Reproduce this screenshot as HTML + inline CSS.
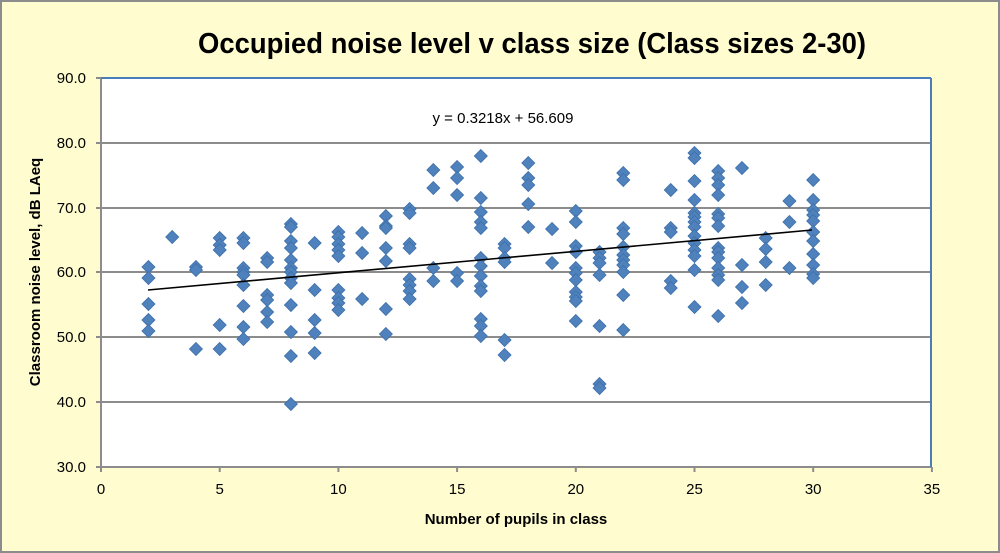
<!DOCTYPE html>
<html><head><meta charset="utf-8"><style>
html,body{margin:0;padding:0;background:#fff;}
svg{display:block;font-family:"Liberation Sans",Arial,sans-serif;}
</style></head><body>
<svg id="s" width="1000" height="553" viewBox="0 0 1000 553" xmlns="http://www.w3.org/2000/svg">
<rect x="1" y="1" width="998" height="551" fill="#fffdd0" stroke="#8c8c8c" stroke-width="2"/>
<text x="532" y="53" text-anchor="middle" font-size="29" font-weight="bold" fill="#000" textLength="668" lengthAdjust="spacingAndGlyphs">Occupied noise level v class size (Class sizes 2-30)</text>
<rect x="101" y="78" width="830" height="389" fill="#fff"/>
<g stroke="#8c8c8c" stroke-width="2">
<line x1="101" y1="143" x2="931" y2="143"/>
<line x1="101" y1="208" x2="931" y2="208"/>
<line x1="101" y1="272" x2="931" y2="272"/>
<line x1="101" y1="337" x2="931" y2="337"/>
<line x1="101" y1="402" x2="931" y2="402"/>
<line x1="101" y1="467" x2="931" y2="467"/>
<line x1="101" y1="78" x2="101" y2="467"/>
<line x1="96" y1="78" x2="101" y2="78"/><line x1="96" y1="143" x2="101" y2="143"/><line x1="96" y1="208" x2="101" y2="208"/><line x1="96" y1="272" x2="101" y2="272"/><line x1="96" y1="337" x2="101" y2="337"/><line x1="96" y1="402" x2="101" y2="402"/><line x1="96" y1="467" x2="101" y2="467"/>
</g>
<line x1="101" y1="78" x2="931" y2="78" stroke="#4a7ebb" stroke-width="2"/>
<line x1="931" y1="78" x2="931" y2="467" stroke="#4a7ebb" stroke-width="2"/>
<g stroke="#8c8c8c" stroke-width="2" id="xt"></g>
<g font-size="15" fill="#000" text-anchor="end">
<text x="86" y="83">90.0</text><text x="86" y="148">80.0</text><text x="86" y="213">70.0</text><text x="86" y="277">60.0</text><text x="86" y="342">50.0</text><text x="86" y="407">40.0</text><text x="86" y="472">30.0</text>
</g>
<g font-size="15" fill="#000" text-anchor="middle" id="xl"></g>
<text x="516" y="524" text-anchor="middle" font-size="15" font-weight="bold">Number of pupils in class</text>
<text transform="translate(40,272) rotate(-90)" text-anchor="middle" font-size="15" font-weight="bold">Classroom noise level, dB LAeq</text>
<g id="pts" fill="#4f81bd" stroke="#3d6fa8" stroke-width="0.8"></g>
<line x1="148" y1="290" x2="812" y2="230" stroke="#000" stroke-width="1.6"/>
<text x="503" y="123" text-anchor="middle" font-size="15">y = 0.3218x + 56.609</text>
</svg>
<script>
var ns="http://www.w3.org/2000/svg";
var xt=document.getElementById("xt"),xl=document.getElementById("xl");
for(var i=0;i<=35;i+=5){var px=101+i*23.74;
var l=document.createElementNS(ns,"line");l.setAttribute("x1",px);l.setAttribute("x2",px);l.setAttribute("y1",467);l.setAttribute("y2",472);xt.appendChild(l);
var t=document.createElementNS(ns,"text");t.setAttribute("x",px);t.setAttribute("y",494);t.textContent=i;xl.appendChild(t);}
var d={2:[267,278,304,320,331],3:[237],4:[267,270,349],5:[238,245,250,325,349],6:[238,243,268,272,275,285,306,327,339],
7:[258,262,295,300,312,322],8:[224,227,241,248,260,268,272,278,283,305,332,356,404],9:[243,290,320,333,353],
10:[232,237,244,250,256,290,298,303,310],11:[233,253,299],12:[216,226,228,248,261,309,334],13:[209,213,244,248,279,285,291,299],
14:[170,188,268,281],15:[167,178,195,273,281],16:[156,198,212,222,228,258,266,276,286,291,319,326,336],17:[244,248,258,262,340,355],
18:[163,178,185,204,227],19:[229,263],20:[211,222,246,252,268,273,280,292,297,301,321],21:[252,258,263,275,326,384,388],
22:[173,180,228,234,247,255,260,265,272,295,330],24:[190,228,232,281,288],25:[153,158,181,200,213,217,222,227,236,243,250,256,270,307],
26:[171,178,185,195,214,218,226,248,252,258,268,275,280,316],27:[168,265,287,303],28:[238,249,262,285],29:[201,222,268],
30:[180,200,210,215,221,232,241,254,265,274,278]};
var g=document.getElementById("pts");
for(var k in d){var cx=101+k*23.74;d[k].forEach(function(y){var p=document.createElementNS(ns,"polygon");var r=6.5;
p.setAttribute("points",(cx)+","+(y-r)+" "+(cx+r)+","+y+" "+cx+","+(y+r)+" "+(cx-r)+","+y);g.appendChild(p);});}
</script>
</body></html>
